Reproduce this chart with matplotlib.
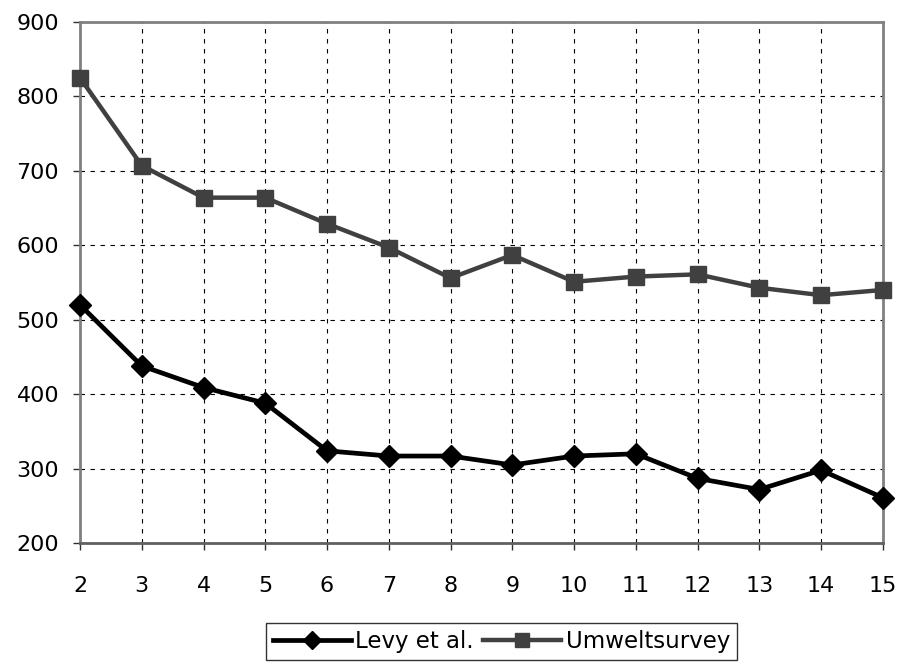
import matplotlib.pyplot as plt

plt.rcParams['font.family'] = ['DejaVu Sans']

# data
x = [2, 3, 4, 5, 6, 7, 8, 9, 10, 11, 12, 13, 14, 15]
levy = [520, 438, 409, 388, 324, 317, 317, 305, 317, 320, 287, 272, 298, 261]
umwelt = [825, 707, 664, 664, 629, 597, 556, 587, 551, 558, 561, 543, 533, 540]

fig = plt.figure(figsize=(9.01, 6.64), dpi=100)
ax = fig.add_axes([0.0888, 0.182, 0.891, 0.785])

ax.plot(x, levy, color='black', lw=3.4, marker='D', markersize=11,
        markerfacecolor='black', markeredgecolor='black', label='Levy et al.',
        zorder=3, clip_on=False)
ax.plot(x, umwelt, color='#404040', lw=3.2, marker='s', markersize=12,
        markerfacecolor='#404040', markeredgecolor='#404040', label='Umweltsurvey',
        zorder=3, clip_on=False)

ax.set_xlim(2, 15)
ax.set_ylim(200, 900)
ax.set_xticks(x)
ax.set_yticks(range(200, 901, 100))
ax.grid(True, color='black', linestyle=(0, (4, 5)), linewidth=0.8)
ax.tick_params(axis='both', direction='out', length=5, width=1, labelsize=16, color='#303030')
ax.tick_params(axis='x', pad=19)
ax.tick_params(axis='y', pad=10)
for s in ax.spines.values():
    s.set_color('#808080')
    s.set_linewidth(2)
ax.spines['bottom'].set_color('#606060')

leg = fig.legend(loc='upper center', bbox_to_anchor=(0.5566, 1 - 623 / 664), ncol=2,
                 fontsize=16.5, frameon=True, fancybox=False, edgecolor='black',
                 handlelength=3.4, handletextpad=0.2, columnspacing=0.4,
                 borderpad=0.3, borderaxespad=0, markerscale=0.8)
leg.get_frame().set_linewidth(1.0)

fig.savefig('out.png', dpi=100)
